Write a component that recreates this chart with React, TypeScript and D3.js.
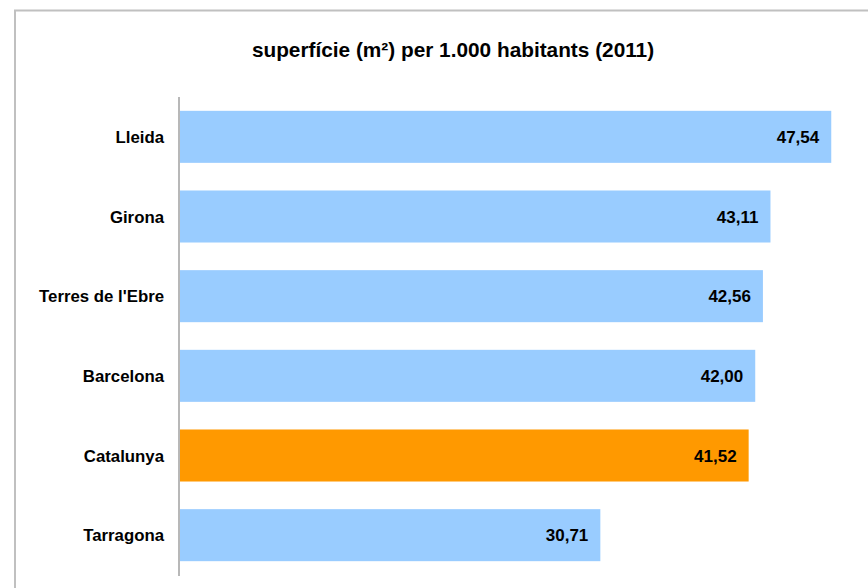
import * as d3 from 'd3'

const REGIONS = ['Lleida', 'Girona', "Terres de l'Ebre", 'Barcelona', 'Catalunya', 'Tarragona']
const VALUES = [47.54, 43.11, 42.56, 42.0, 41.52, 30.71]
const HIGHLIGHT = 'Catalunya'
const TITLE = 'superfície (m²) per 1.000 habitants (2011)'

const WIDTH = 868
const HEIGHT = 588
const FONT = '"Liberation Sans", Arial, sans-serif'

const fmt = (v: number) => v.toFixed(2).replace('.', ',')

export default function App() {
  const x = d3.scaleLinear().domain([0, 50]).range([179, 865])
  const y = d3
    .scaleBand<string>()
    .domain(REGIONS)
    .range([97, 575])
    .paddingInner(0.347)
    .paddingOuter(0.1735)

  return (
    <svg
      width={WIDTH}
      height={HEIGHT}
      style={{ position: 'absolute', left: 0, top: 0, background: '#fff' }}
      fontFamily={FONT}
    >
      {/* chart frame */}
      <rect x={15} y={10.5} width={WIDTH + 10} height={HEIGHT + 10} fill="none" stroke="#c0c0c0" strokeWidth={2} />

      <text x={453} y={57} textAnchor="middle" fontSize={20.8} fontWeight="bold" fill="#000">
        {TITLE}
      </text>

      {REGIONS.map((r, i) => {
        const y0 = y(r) ?? 0
        const bw = y.bandwidth()
        const cy = y0 + bw / 2
        return (
          <g key={r}>
            <rect
              x={x(0)}
              y={y0}
              width={x(VALUES[i]) - x(0)}
              height={bw}
              fill={r === HIGHLIGHT ? '#ff9900' : '#99ccff'}
            />
            <text x={x(VALUES[i]) - 12} y={cy + 6} textAnchor="end" fontSize={17} fontWeight="bold" fill="#000">
              {fmt(VALUES[i])}
            </text>
            <text x={164} y={cy + 6} textAnchor="end" fontSize={16.8} fontWeight="bold" fill="#000">
              {r}
            </text>
          </g>
        )
      })}

      <line x1={x(0)} x2={x(0)} y1={97} y2={576} stroke="#b8b8b8" strokeWidth={2} />
    </svg>
  )
}
